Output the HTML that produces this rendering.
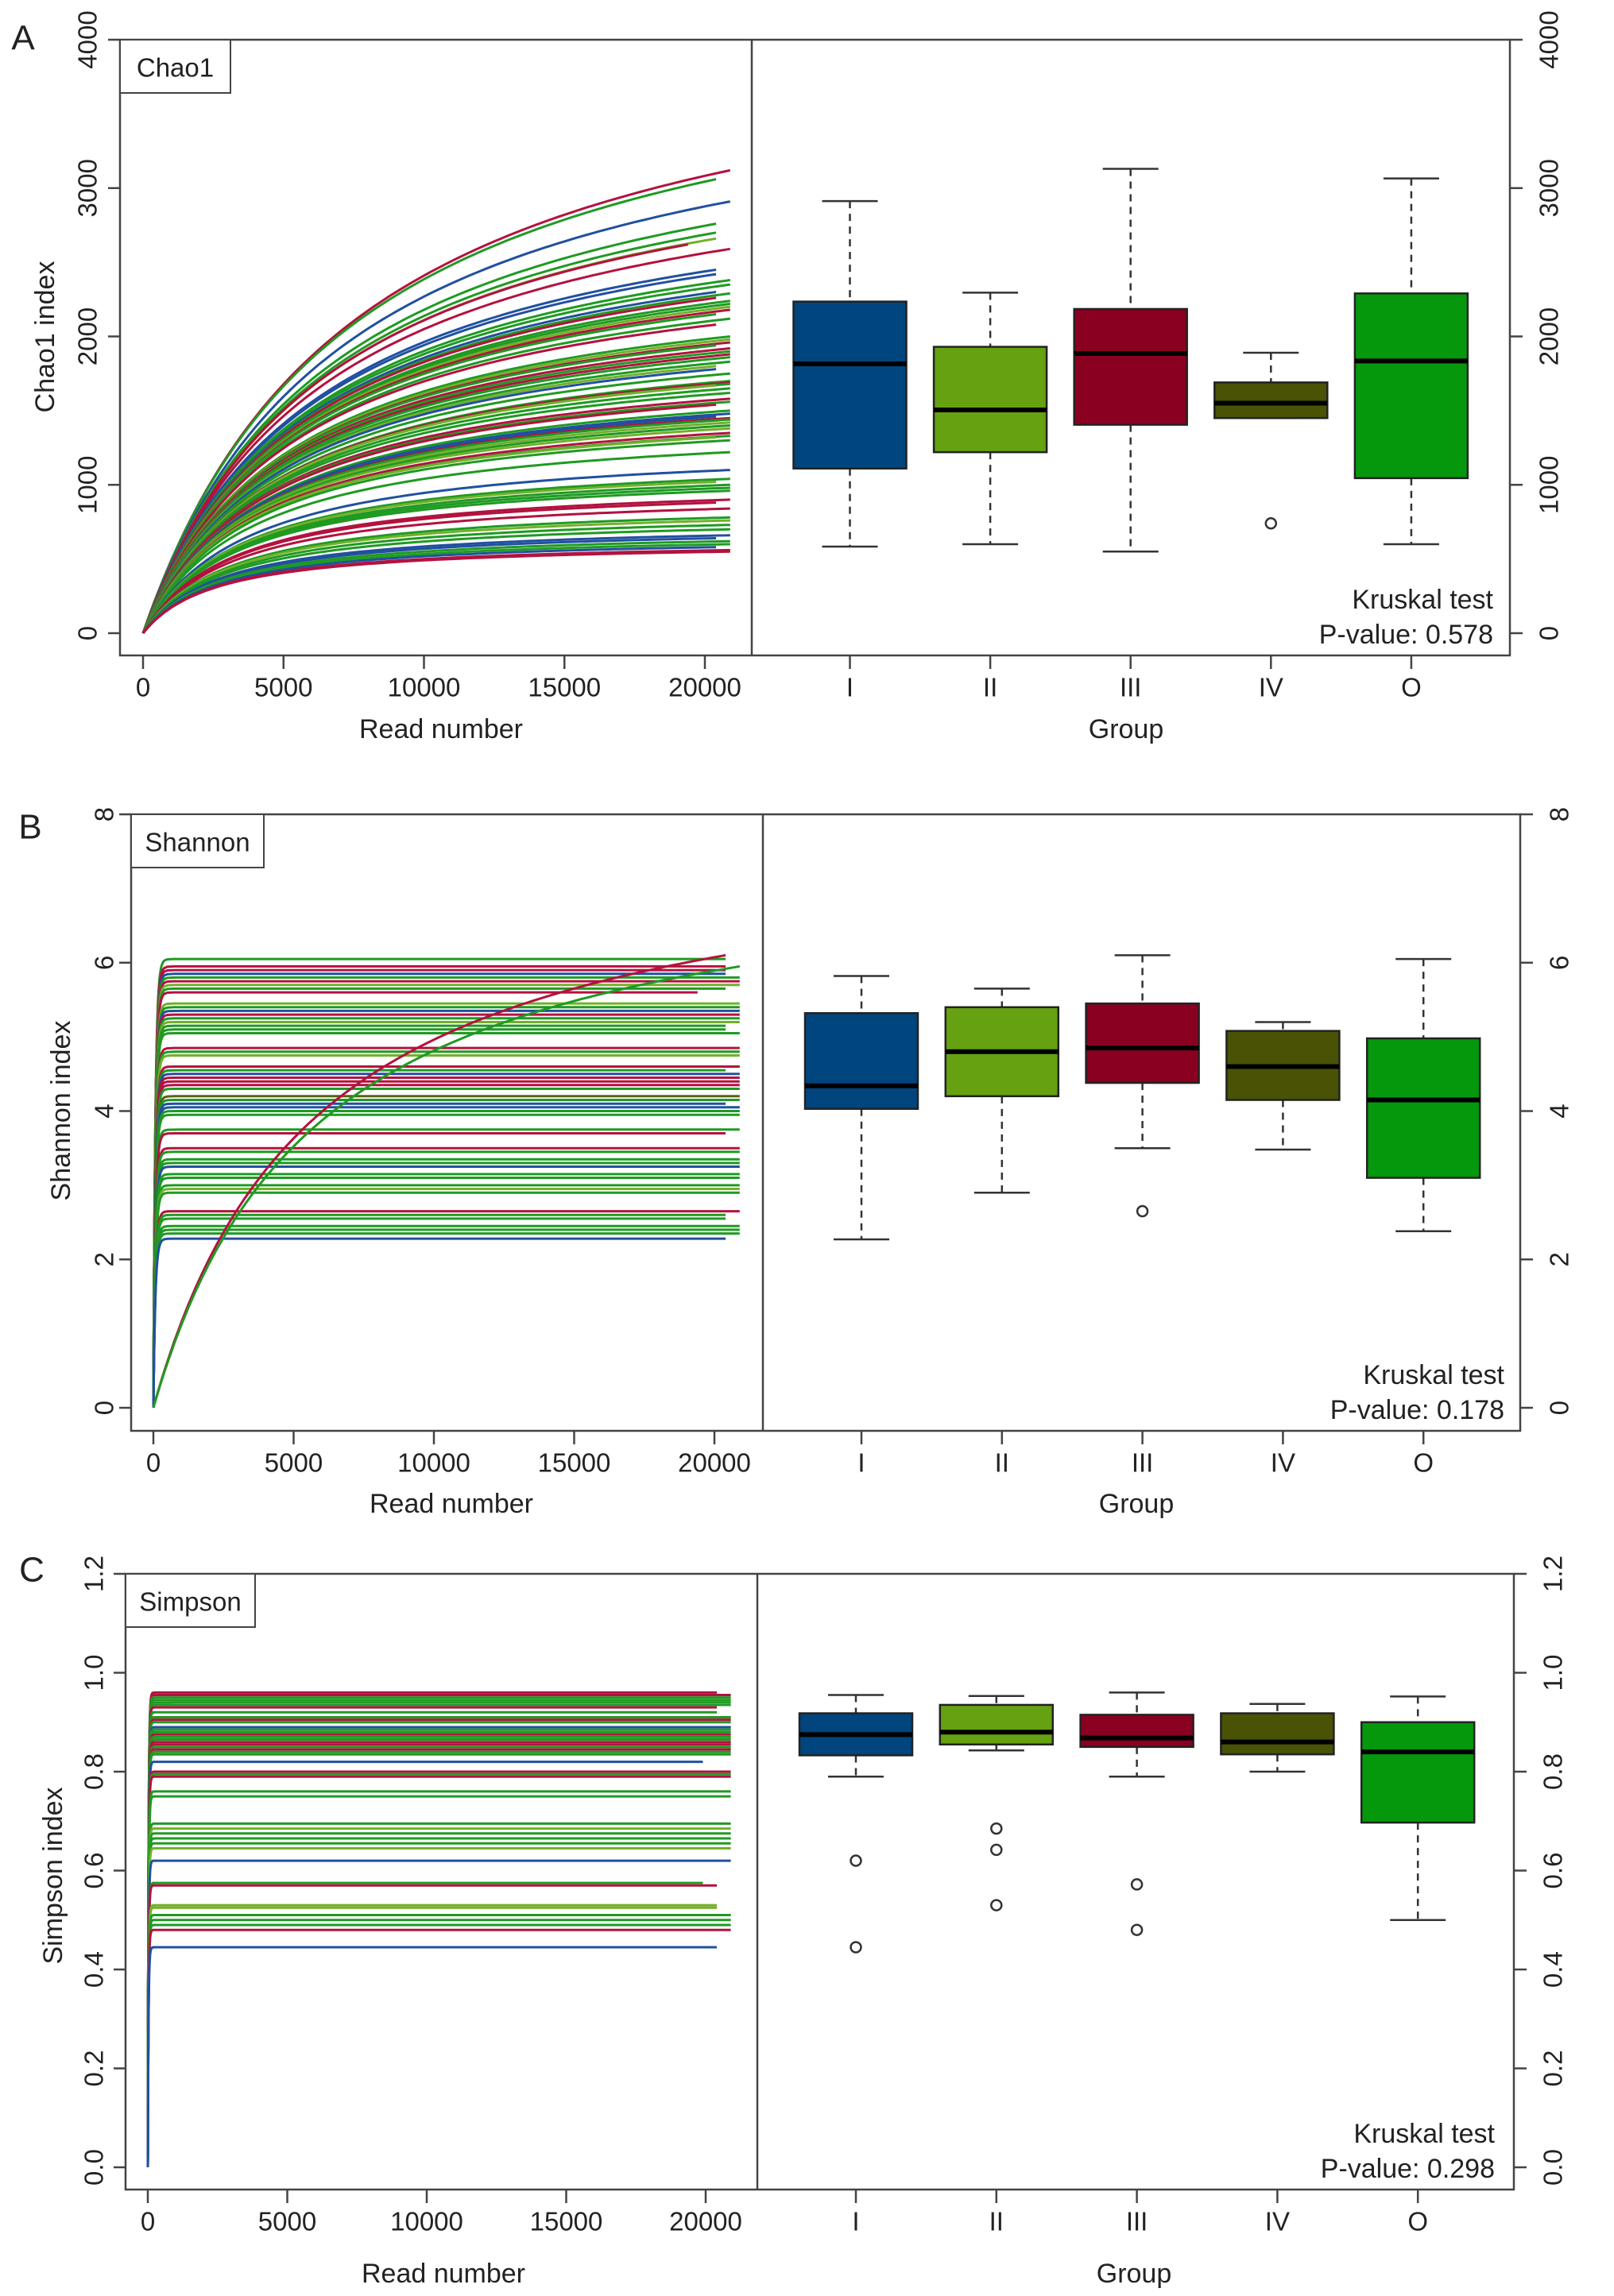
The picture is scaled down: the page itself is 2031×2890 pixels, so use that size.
<!DOCTYPE html>
<html><head><meta charset="utf-8"><title>Alpha diversity</title>
<style>
html,body{margin:0;padding:0;background:#fff;}
svg{display:block;}
text{font-family:"Liberation Sans",Arial,sans-serif;fill:#222;}
</style></head>
<body>
<svg id="fig" width="2031" height="2890" viewBox="0 0 2031 2890" xmlns="http://www.w3.org/2000/svg">
<defs>
<clipPath id="clipA"><rect x="151" y="50" width="795" height="775"/></clipPath>
<clipPath id="clipB"><rect x="165" y="1025" width="795" height="776"/></clipPath>
<clipPath id="clipC"><rect x="158" y="1981" width="795" height="775"/></clipPath>
</defs>
</svg>
<script>
// ---------- DATA ----------
const groupNames = ['I','II','III','IV','O'];
// Panel A: Chao1 rarefaction endpoints
const chaoFinal = [3120,3060,2910,2760,2700,2660,2620,2590,2450,2420,2380,2350,2300,2290,2260,2240,2220,2200,2180,2150,2120,2080,2000,1980,1960,1940,1920,1900,1880,1860,1830,1800,1780,1750,1700,1690,1680,1670,1650,1620,1580,1560,1540,1500,1480,1460,1450,1440,1420,1400,1380,1350,1330,1320,1300,1220,1100,1040,1020,1000,980,960,900,880,840,780,760,730,700,660,640,620,600,580,560,550];
const chaoGroup = ['III','O','I','O','O','II','III','III','I','I','O','O','I','O','III','O','O','II','III','O','O','III','O','II','III','O','III','O','III','O','O','II','I','O','O','III','O','II','O','O','III','O','III','O','I','I','III','O','II','O','II','III','O','II','O','O','I','O','II','O','O','O','III','III','III','O','II','O','O','I','I','O','O','I','III','III'];
const chaoEnd = [20900,20400,20900,20400,20400,20400,19400,20900,20400,20400,20900,20900,20400,20900,20400,20900,20900,20900,20900,20400,20900,20400,20900,20900,20900,20400,20900,20900,20900,20900,20900,20400,20400,20900,20900,20900,20900,20400,20900,20900,20900,20900,20400,20900,20900,20400,20900,20900,20900,20900,20900,20900,20900,20400,20900,20900,20900,20900,20400,20900,20900,20900,20900,20400,20900,20900,20900,20900,20900,20900,20400,20900,20900,20400,20900,20900];
const chaoLo  = [584,600,550,1450,600];
const chaoQ1  = [1110,1220,1405,1450,1045];
const chaoMed = [1815,1505,1885,1550,1835];
const chaoQ3  = [2235,1930,2185,1690,2290];
const chaoHi  = [2912,2295,3130,1890,3065];
const chaoOut = [[],[],[],[740],[]];
const chaoTicks = [0,1000,2000,3000,4000];
// Panel B: Shannon
const shanFinal = [6.05,5.95,5.9,5.85,5.8,5.75,5.7,5.65,5.6,5.45,5.4,5.35,5.3,5.25,5.2,5.15,5.1,5.05,4.85,4.8,4.75,4.6,4.55,4.5,4.45,4.4,4.35,4.3,4.2,4.15,4.1,4.05,4.0,3.95,3.75,3.7,3.5,3.45,3.35,3.3,3.25,3.15,3.1,3.0,2.95,2.9,2.65,2.6,2.55,2.45,2.4,2.35,2.28];
const shanGroup = ['O','III','III','I','O','III','II','O','III','II','O','I','III','O','II','O','O','O','III','O','II','III','O','I','III','III','III','O','IV','O','I','I','O','O','O','III','III','O','O','O','I','O','O','O','II','O','III','O','O','O','O','O','I'];
const shanEnd = [20400,20400,20400,20400,20900,20900,20900,20400,19400,20900,20900,20900,20900,20900,20900,20400,20400,20900,20900,20900,20900,20900,20400,20900,20900,20900,20900,20900,20900,20900,20400,20900,20900,20900,20900,20400,20900,20900,20900,20900,20900,20900,20900,20900,20900,20900,20900,20400,20400,20900,20900,20900,20400];
const shanSlowFinal = [6.1,5.95];
const shanSlowGroup = ['III','O'];
const shanSlowEnd = [20400,20900];
const shanLo  = [2.27,2.9,3.5,3.48,2.38];
const shanQ1  = [4.03,4.2,4.38,4.15,3.1];
const shanMed = [4.34,4.8,4.85,4.6,4.15];
const shanQ3  = [5.32,5.4,5.45,5.08,4.98];
const shanHi  = [5.82,5.65,6.1,5.2,6.05];
const shanOut = [[],[],[2.65],[],[]];
const shanTicks = [0,2,4,6,8];
// Panel C: Simpson
const simpFinal = [0.96,0.955,0.95,0.945,0.94,0.935,0.93,0.92,0.91,0.905,0.9,0.89,0.885,0.88,0.875,0.87,0.865,0.86,0.855,0.85,0.845,0.84,0.835,0.82,0.8,0.795,0.79,0.76,0.75,0.695,0.685,0.675,0.665,0.655,0.645,0.62,0.575,0.57,0.53,0.525,0.51,0.5,0.49,0.48,0.445];
const simpGroup = ['III','III','O','O','O','O','III','O','O','III','O','I','O','O','III','O','O','III','III','O','III','O','O','I','III','O','III','O','O','O','II','O','O','O','II','I','O','III','II','II','O','O','O','III','I'];
const simpEnd = [20400,20900,20900,20900,20900,20900,20400,20400,20900,20900,20900,20900,20900,20900,20900,20900,20900,20900,20900,20900,20900,20900,20900,19900,20900,20900,20900,20900,20900,20900,20900,20900,20900,20900,20900,20900,19900,20400,20400,20400,20900,20900,20900,20900,20400];
const simpLo  = [0.79,0.843,0.79,0.80,0.50];
const simpQ1  = [0.833,0.855,0.85,0.835,0.697];
const simpMed = [0.875,0.88,0.868,0.86,0.84];
const simpQ3  = [0.918,0.935,0.915,0.918,0.90];
const simpHi  = [0.955,0.953,0.96,0.937,0.952];
const simpOut = [[0.62,0.445],[0.685,0.642,0.53],[0.572,0.48],[],[]];
const simpTicks = [0,0.2,0.4,0.6,0.8,1.0,1.2];
const readTicks = [0,5000,10000,15000,20000];

// ---------- RENDER ----------
const NS='http://www.w3.org/2000/svg';
const svg=document.getElementById('fig');
const lineCol={I:'#2150a0',II:'#72b02a',III:'#b3123f',IV:'#5a6012',O:'#1f9a22'};
const boxCol={I:'#00457e',II:'#66a111',III:'#8a0020',IV:'#4a5206',O:'#05970c'};
function mk(tag,attrs,parent){const e=document.createElementNS(NS,tag);for(const k in attrs)e.setAttribute(k,attrs[k]);(parent||svg).appendChild(e);return e;}

function panel(cfg){
  const g=mk('g',{});
  
  
  const ys=v=>cfg.y0-(v-cfg.vmin)/(cfg.vmax-cfg.vmin)*(cfg.y0-cfg.yTop);
  const xs=r=>cfg.x0+r/20000*(cfg.x20-cfg.x0);
  const gx=i=>cfg.c0+i*cfg.cs;
  const pl=mk('text',{x:cfg.lx,y:cfg.ly,'font-size':44,'dominant-baseline':'central','text-anchor':'middle'},g);
  pl.textContent=cfg.letter;
  
  
  const cg=mk('g',{'clip-path':'url(#'+cfg.clip+')'},g);
  
  
  function curve(fin,grp,end,K,mode){
    let d='';
    const steps=[];
    for(let r=0;r<=400;r+=4)steps.push(r);
    for(let r=500;r<end;r+=250)steps.push(r);
    steps.push(end);
    steps.forEach((r,j)=>{
      let v;
      if(mode==='exp') v=fin*(1-Math.exp(-r/K))/(1-Math.exp(-end/K));
      else v=fin*(r/(K+r))*((K+end)/end);
      d+=(j?'L':'M')+xs(r).toFixed(1)+','+ys(v).toFixed(1);
    });
    const p=mk('path',{d:d,fill:'none',stroke:lineCol[grp]||lineCol.O,'stroke-width':3},cg);
    
    
  }
  cfg.finals.forEach((f,i)=>curve(f,cfg.groups[i]||'O',cfg.ends[i]||20900,cfg.K(f),cfg.mode));
  (cfg.slowF||[]).forEach((f,i)=>curve(f,cfg.slowG[i],cfg.slowE[i],cfg.slowK,'mm'));
  const fr=mk('rect',{x:cfg.L,y:cfg.T,width:cfg.R-cfg.L,height:cfg.B-cfg.T,fill:'none',stroke:'#444','stroke-width':2.5},g);
  
  
  const dv=mk('line',{x1:cfg.D,y1:cfg.T,x2:cfg.D,y2:cfg.B,stroke:'#444','stroke-width':2.5},g);
  
  
  const lb=mk('rect',{x:cfg.L,y:cfg.T,width:cfg.legW,height:67,fill:'#fff',stroke:'#444','stroke-width':2},g);
  
  
  const lt=mk('text',{x:cfg.L+cfg.legW/2,y:cfg.T+35,'font-size':33,'text-anchor':'middle','dominant-baseline':'central'},g);
  lt.textContent=cfg.metric;
  
  
  cfg.ticks.forEach(t=>{
    const y=ys(t);
    const a=mk('line',{x1:cfg.L-15,y1:y,x2:cfg.L,y2:y,stroke:'#444','stroke-width':2.5},g);
    
    
    const b=mk('line',{x1:cfg.R,y1:y,x2:cfg.R+16,y2:y,stroke:'#444','stroke-width':2.5},g);
    
    
    const lab=cfg.fmt(t);
    const tl=mk('text',{x:cfg.tlx,y:y,'font-size':33,'text-anchor':'middle','dominant-baseline':'central',transform:'rotate(-90 '+cfg.tlx+' '+y+')'},g);
    tl.textContent=lab;
    
    
    const tr=mk('text',{x:cfg.trx,y:y,'font-size':33,'text-anchor':'middle','dominant-baseline':'central',transform:'rotate(-90 '+cfg.trx+' '+y+')'},g);
    tr.textContent=lab;
    
    
  });
  readTicks.forEach(r=>{
    const x=xs(r);
    const a=mk('line',{x1:x,y1:cfg.B,x2:x,y2:cfg.B+17,stroke:'#444','stroke-width':2.5},g);
    
    
    const t=mk('text',{x:x,y:cfg.B+40,'font-size':33,'text-anchor':'middle','dominant-baseline':'central'},g);
    t.textContent=String(r);
    
    
  });
  groupNames.forEach((n,i)=>{
    const x=gx(i);
    const a=mk('line',{x1:x,y1:cfg.B,x2:x,y2:cfg.B+17,stroke:'#444','stroke-width':2.5},g);
    
    
    const t=mk('text',{x:x,y:cfg.B+40,'font-size':33,'text-anchor':'middle','dominant-baseline':'central'},g);
    t.textContent=n;
    
    
  });
  const xt=mk('text',{x:cfg.rnx,y:cfg.titY,'font-size':34,'text-anchor':'middle','dominant-baseline':'central','xml:space':'preserve'},g);
  xt.textContent='Read   number';
  
  
  const gt=mk('text',{x:cfg.grx,y:cfg.titY,'font-size':34,'text-anchor':'middle','dominant-baseline':'central'},g);
  gt.textContent='Group';
  
  
  const yt=mk('text',{x:cfg.ytx,y:cfg.yty,'font-size':34,'text-anchor':'middle','dominant-baseline':'central','xml:space':'preserve',transform:'rotate(-90 '+cfg.ytx+' '+cfg.yty+')'},g);
  yt.textContent=cfg.ytitle;
  
  
  const hw=71, cw=35;
  groupNames.forEach((n,i)=>{
    const x=gx(i);
    const bg=mk('g',{},g);
    
    
    mk('line',{x1:x,y1:ys(cfg.hi[i]),x2:x,y2:ys(cfg.q3[i]),stroke:'#333','stroke-width':2.5,'stroke-dasharray':'9 7'},bg);
    mk('line',{x1:x,y1:ys(cfg.q1[i]),x2:x,y2:ys(cfg.lo[i]),stroke:'#333','stroke-width':2.5,'stroke-dasharray':'9 7'},bg);
    mk('line',{x1:x-cw,y1:ys(cfg.hi[i]),x2:x+cw,y2:ys(cfg.hi[i]),stroke:'#333','stroke-width':2.5},bg);
    mk('line',{x1:x-cw,y1:ys(cfg.lo[i]),x2:x+cw,y2:ys(cfg.lo[i]),stroke:'#333','stroke-width':2.5},bg);
    mk('rect',{x:x-hw,y:ys(cfg.q3[i]),width:2*hw,height:ys(cfg.q1[i])-ys(cfg.q3[i]),fill:boxCol[n],stroke:'#222','stroke-width':2.5},bg);
    mk('line',{x1:x-hw,y1:ys(cfg.med[i]),x2:x+hw,y2:ys(cfg.med[i]),stroke:'#000','stroke-width':6},bg);
    cfg.out[i].forEach(o=>{
      const c=mk('circle',{cx:x,cy:ys(o),r:6.5,fill:'none',stroke:'#333','stroke-width':2.5},bg);
      
      
    });
  });
  const k1=mk('text',{x:cfg.kx,y:cfg.B-70,'font-size':34,'text-anchor':'end','dominant-baseline':'central'},g);
  k1.textContent='Kruskal test';
  
  
  const k2=mk('text',{x:cfg.kx,y:cfg.B-26,'font-size':34,'text-anchor':'end','dominant-baseline':'central'},g);
  k2.textContent='P-value: '+cfg.p;
  
  
}

panel({id:'a',letter:'A',lx:29,ly:48,clip:'clipA',L:151,T:50,B:825,D:946,R:1900,
  y0:797,yTop:50,vmin:0,vmax:4000,x0:180,x20:887,c0:1069.5,cs:176.6,
  finals:chaoFinal,groups:chaoGroup,ends:chaoEnd,K:f=>1500+2*f,mode:'mm',
  lo:chaoLo,q1:chaoQ1,med:chaoMed,q3:chaoQ3,hi:chaoHi,out:chaoOut,ticks:chaoTicks,fmt:t=>String(t),
  tlx:110,trx:1949,legW:139,metric:'Chao1',ytitle:'Chao1 index',ytx:57,yty:424,
  rnx:555,grx:1417,titY:918,kx:1879,p:'0.578'});
panel({id:'b',letter:'B',lx:38,ly:1041,clip:'clipB',L:165,T:1025,B:1801,D:960,R:1913,
  y0:1772,yTop:1025,vmin:0,vmax:8,x0:193,x20:899,c0:1084,cs:176.8,
  finals:shanFinal,groups:shanGroup,ends:shanEnd,K:f=>70,mode:'exp',slowF:shanSlowFinal,slowG:shanSlowGroup,slowE:shanSlowEnd,slowK:5770,
  lo:shanLo,q1:shanQ1,med:shanMed,q3:shanQ3,hi:shanHi,out:shanOut,ticks:shanTicks,fmt:t=>String(t),
  tlx:131,trx:1962,legW:167,metric:'Shannon',ytitle:'Shannon  index',ytx:77,yty:1398,
  rnx:568,grx:1430,titY:1893,kx:1893,p:'0.178'});
panel({id:'c',letter:'C',lx:40,ly:1976,clip:'clipC',L:158,T:1981,B:2756,D:953,R:1905,
  y0:2728,yTop:1981,vmin:0,vmax:1.2,x0:186,x20:888,c0:1077,cs:176.8,
  finals:simpFinal,groups:simpGroup,ends:simpEnd,K:f=>25,mode:'exp',
  lo:simpLo,q1:simpQ1,med:simpMed,q3:simpQ3,hi:simpHi,out:simpOut,ticks:simpTicks,fmt:t=>t.toFixed(1),
  tlx:118,trx:1954,legW:163,metric:'Simpson',ytitle:'Simpson  index',ytx:67,yty:2361,
  rnx:558,grx:1427,titY:2862,kx:1881,p:'0.298'});
</script>
</body></html>
